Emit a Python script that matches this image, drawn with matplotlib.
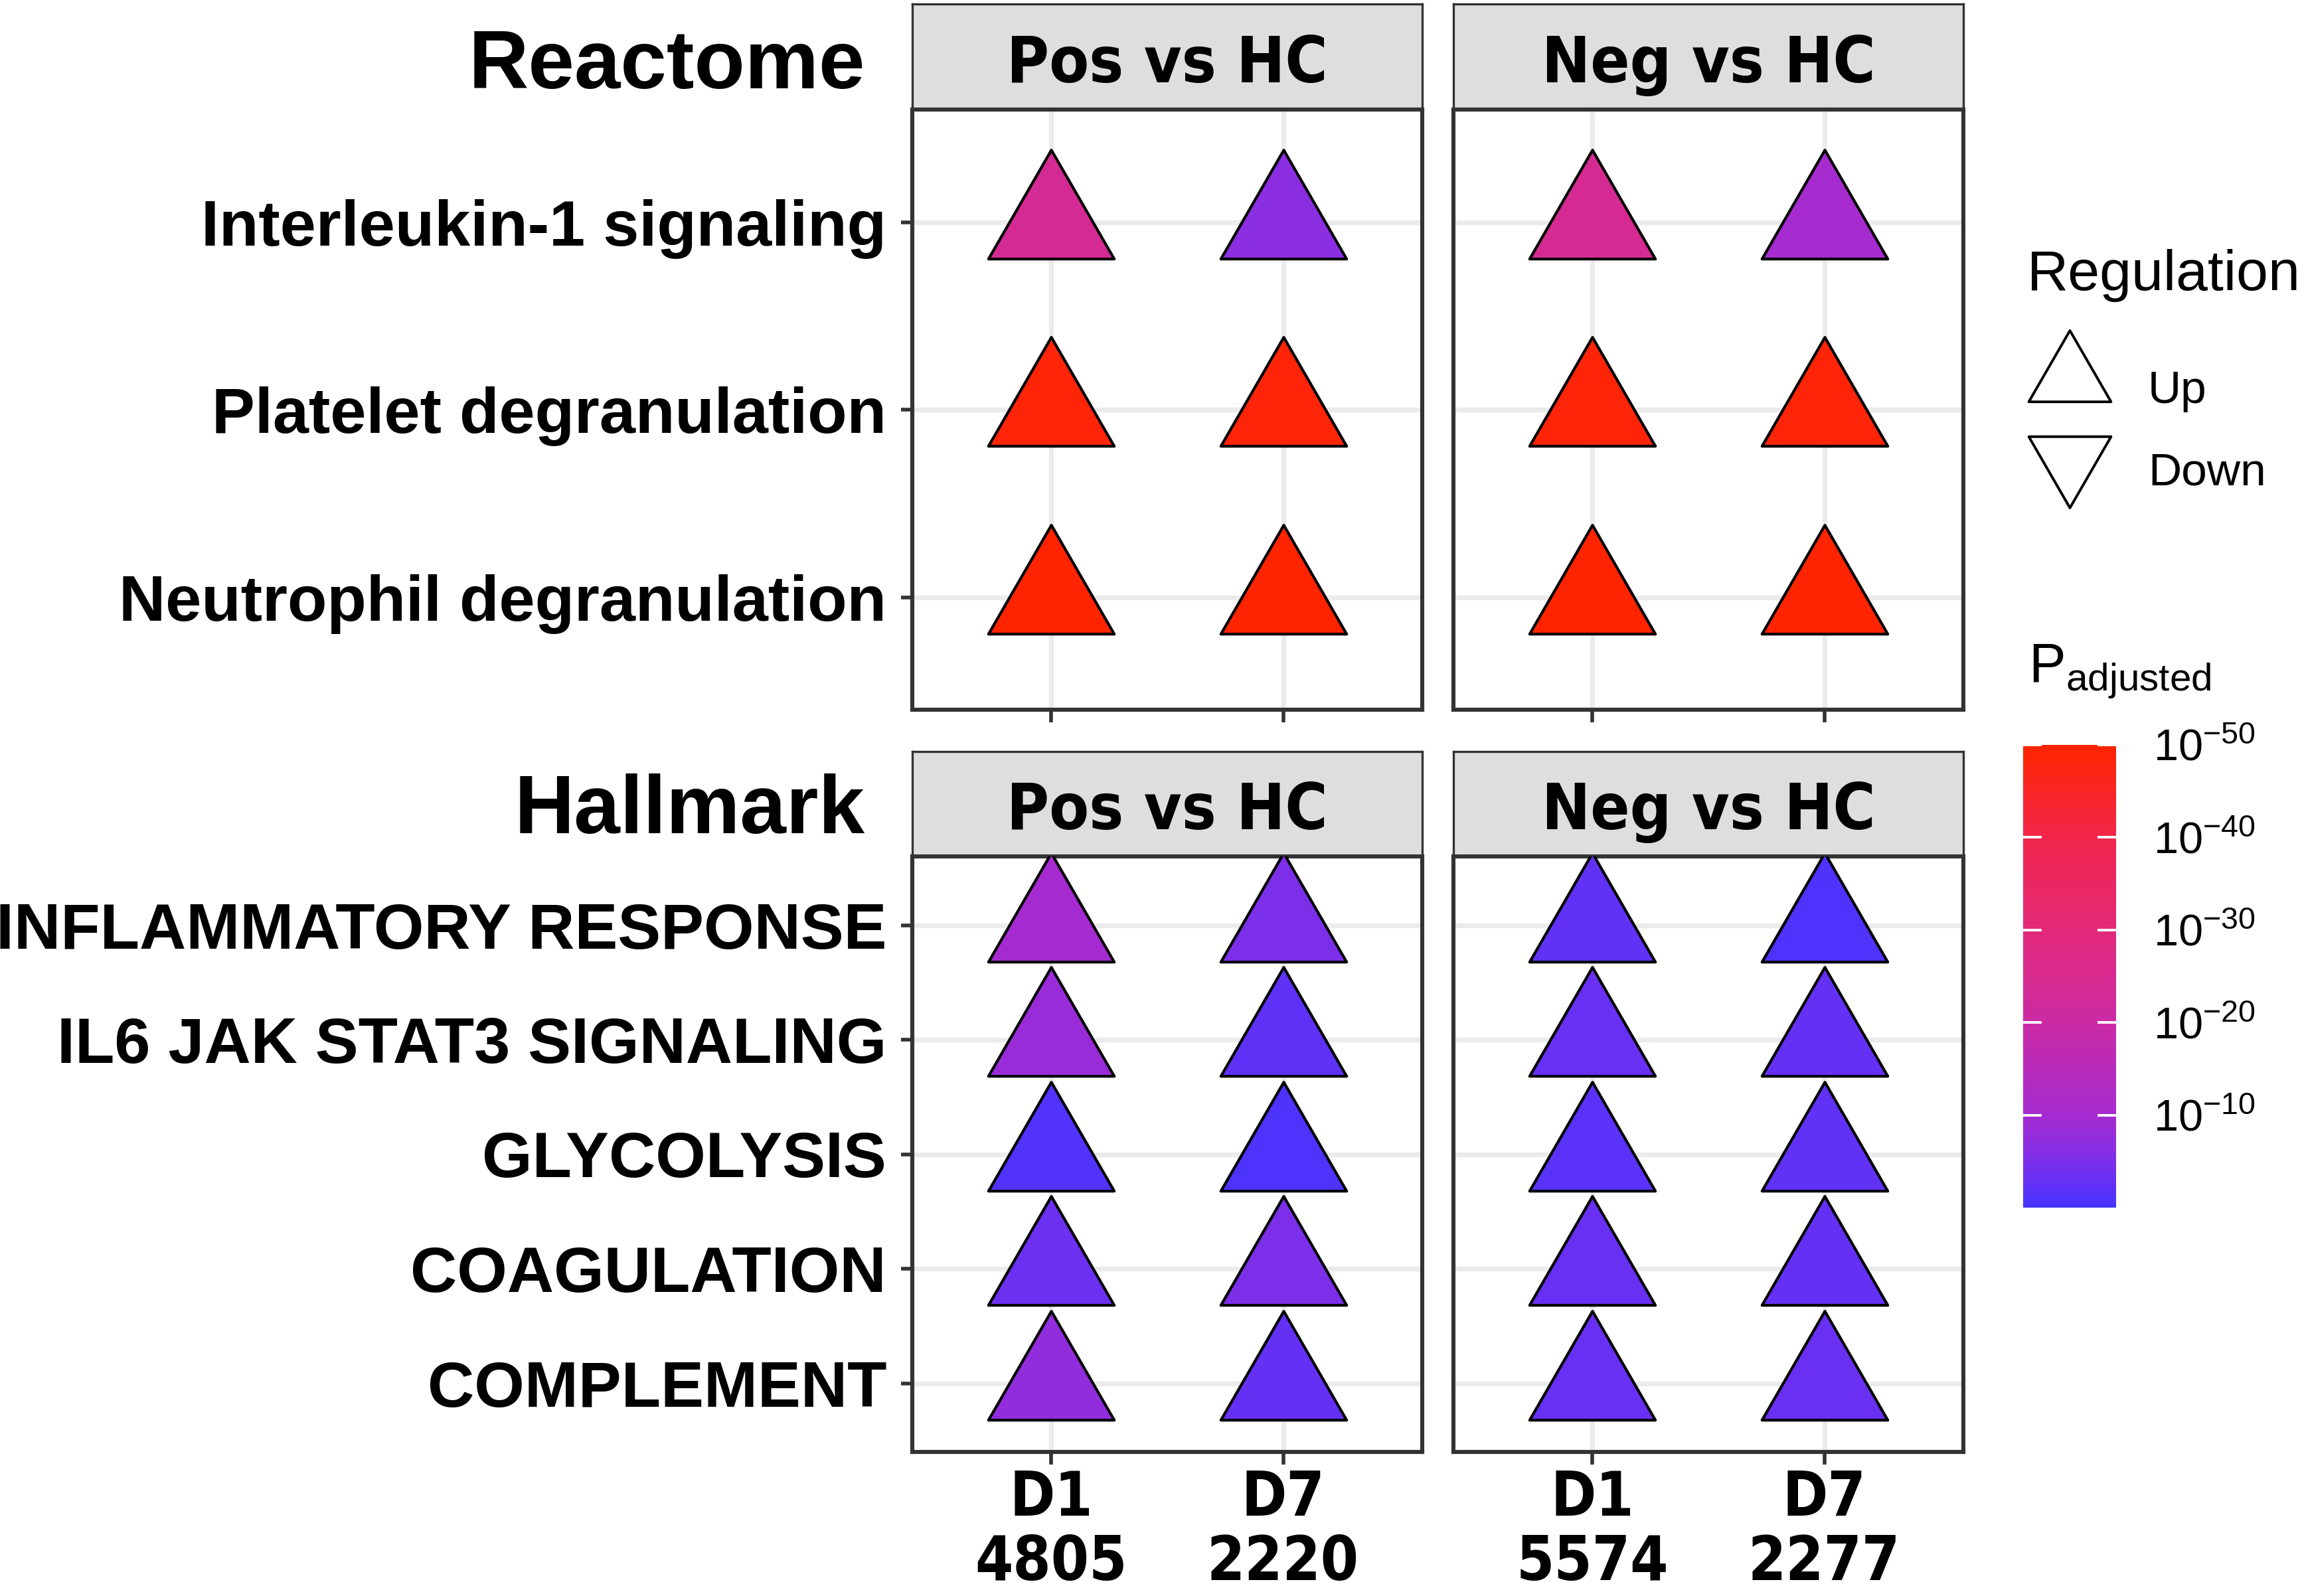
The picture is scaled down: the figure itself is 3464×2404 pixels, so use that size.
import numpy as np
import matplotlib
matplotlib.use("Agg")
import matplotlib.pyplot as plt
from matplotlib.path import Path
from matplotlib.lines import Line2D
from matplotlib.colors import LinearSegmentedColormap, Normalize
from matplotlib.cm import ScalarMappable
from matplotlib import font_manager

# ---- data ----
groups = ["Pos vs HC", "Neg vs HC"]
days = ["D1", "D7"]
pos_counts = [4805, 2220]
neg_counts = [5574, 2277]

reactome_terms = ["Interleukin-1 signaling", "Platelet degranulation", "Neutrophil degranulation"]
hallmark_terms = ["INFLAMMATORY RESPONSE", "IL6 JAK STAT3 SIGNALING", "GLYCOLYSIS",
                  "COAGULATION", "COMPLEMENT"]

# -log10(P adjusted), rows = terms, columns = D1, D7
reactome_pos = [[24.0, 6.5], [49.0, 49.0], [50.0, 50.0]]
reactome_neg = [[24.5, 10.5], [49.0, 49.0], [50.0, 50.0]]
hallmark_pos = [[10.0, 5.0], [8.5, 2.2], [1.0, 0.7], [3.5, 5.0], [7.5, 2.6]]
hallmark_neg = [[2.5, 0.8], [3.0, 2.7], [1.8, 2.4], [3.0, 2.7], [3.1, 3.3]]

# all terms are up-regulated
reactome_reg = ["Up"] * 3
hallmark_reg = ["Up"] * 5

cbar_ticks = [10, 20, 30, 40, 50]
cbar_labels = [r"$10^{-%d}$" % t for t in cbar_ticks]

# colour ramp
ramp_pos = [0, 3, 6, 10, 20, 30, 40, 50]
ramp_col = ["#4634FF", "#6930F2", "#872EE4", "#A52BD0", "#CB2AA5", "#E2297A", "#F2264B", "#FF2400"]
cmap = LinearSegmentedColormap.from_list("padj", list(zip(np.array(ramp_pos) / 50, ramp_col)))
norm = Normalize(0, 50)

# ---- fonts ----
fonts = font_manager.fontManager.ttflist
names = {f.name for f in fonts}
strip_kw = {"family": ["Liberation Sans"], "fontsize": 35}
xlab_kw = {"family": ["Liberation Sans"], "fontsize": 33}
xlab_ls = 1.1
if "Liberation Sans Narrow" in names:
    strip_kw = {"family": ["Liberation Sans Narrow", "Liberation Sans"], "fontsize": 42}
    xlab_kw = {"family": ["Liberation Sans Narrow", "Liberation Sans"], "fontsize": 40}
    xlab_ls = 1.05
else:
    cond = [f for f in fonts if f.name == "DejaVu Sans" and "condensed" in str(f.stretch)
            and f.weight in ("bold", 700)]
    if cond:
        strip_kw = {"family": ["DejaVu Sans"], "fontstretch": "condensed", "fontsize": 35}
        xlab_kw = {"family": ["DejaVu Sans"], "fontstretch": "condensed", "fontsize": 33}
        xlab_ls = 1.1

plt.rcParams["font.family"] = ["Liberation Sans", "DejaVu Sans"]
plt.rcParams["mathtext.fontset"] = "custom"
plt.rcParams["mathtext.rm"] = "Liberation Sans"
plt.rcParams["mathtext.it"] = "Liberation Sans:italic"
plt.rcParams["mathtext.bf"] = "Liberation Sans:bold"

W, H = 3464, 2404
fig = plt.figure(figsize=(W / 200, H / 200), dpi=200)


def box(x0, y0, x1, y1):
    return [x0 / W, 1 - y1 / H, (x1 - x0) / W, (y1 - y0) / H]


r3 = np.sqrt(3)
tri_up = Path([(0, 2 / r3), (-1, -1 / r3), (1, -1 / r3), (0, 2 / r3)], closed=True)
tri_down = Path([(0, -2 / r3), (-1, 1 / r3), (1, 1 / r3), (0, -2 / r3)], closed=True)
GREY20 = "#333333"


def strip(x0, x1, y0, y1, label):
    s = fig.add_axes(box(x0, y0, x1, y1))
    s.set_facecolor("#DEDEDE")
    s.set_xticks([])
    s.set_yticks([])
    for sp in s.spines.values():
        sp.set_color(GREY20)
        sp.set_linewidth(1.2)
    s.text(0.5, 0.26, label, ha="center", va="baseline", fontweight="bold",
           transform=s.transAxes, **strip_kw)


def panel(x0, x1, y0, y1, terms, vals, regs, show_y, xlabels):
    ax = fig.add_axes(box(x0, y0, x1, y1))
    n = len(terms)
    vals = np.array(vals)
    ypos = np.arange(n)[::-1]
    for j in range(len(days)):
        for i in range(n):
            ax.scatter(j, ypos[i], s=6200, marker=tri_up if regs[i] == "Up" else tri_down,
                       c=[vals[i, j]], cmap=cmap, norm=norm, edgecolors="black",
                       linewidths=1.5, zorder=3)
    ax.set_xlim(-0.6, len(days) - 0.4)
    ax.set_ylim(-0.6, n - 0.4)
    ax.set_axisbelow(True)
    ax.grid(True, color="#EBEBEB", lw=2.6)
    for sp in ax.spines.values():
        sp.set_color(GREY20)
        sp.set_linewidth(2.2)
    ax.set_xticks(range(len(days)))
    ax.set_yticks(ypos)
    ax.tick_params(axis="x", length=7, width=2, color=GREY20, pad=2)
    ax.tick_params(axis="y", length=6, width=2, color=GREY20, pad=8)
    if show_y:
        ax.set_yticklabels(terms, fontsize=35, fontweight="bold")
    else:
        ax.tick_params(axis="y", left=False, labelleft=False)
    if xlabels is None:
        ax.set_xticklabels([])
    else:
        ax.set_xticklabels(xlabels, fontweight="bold", linespacing=xlab_ls, **xlab_kw)
    return ax


cols = [(1374, 2142), (2189, 2957)]
top_rows = (6, 165, 1069)
bot_rows = (1132, 1290, 2187)

# Reactome row
strip(*cols[0], top_rows[0], top_rows[1], groups[0])
strip(*cols[1], top_rows[0], top_rows[1], groups[1])
panel(*cols[0], top_rows[1], top_rows[2], reactome_terms, reactome_pos, reactome_reg, True, None)
panel(*cols[1], top_rows[1], top_rows[2], reactome_terms, reactome_neg, reactome_reg, False, None)

# Hallmark row
strip(*cols[0], bot_rows[0], bot_rows[1], groups[0])
strip(*cols[1], bot_rows[0], bot_rows[1], groups[1])
panel(*cols[0], bot_rows[1], bot_rows[2], hallmark_terms, hallmark_pos, hallmark_reg, True,
      [f"{d}\n{c}" for d, c in zip(days, pos_counts)])
panel(*cols[1], bot_rows[1], bot_rows[2], hallmark_terms, hallmark_neg, hallmark_reg, False,
      [f"{d}\n{c}" for d, c in zip(days, neg_counts)])

fig.text(1303 / W, 1 - 133 / H, "Reactome", ha="right", va="baseline", fontsize=45, fontweight="bold")
fig.text(1303 / W, 1 - 1255 / H, "Hallmark", ha="right", va="baseline", fontsize=45, fontweight="bold")

# shape legend
fig.text(3053 / W, 1 - 437 / H, "Regulation", ha="left", va="baseline", fontsize=31)
handles = [Line2D([], [], marker=m, ls="none", ms=51.5, mfc="white", mec="black", mew=1.4)
           for m in (tri_up, tri_down)]
fig.legend(handles, ["Up", "Down"], loc="upper left", bbox_to_anchor=(3053 / W, 1 - 532 / H),
           frameon=False, fontsize=25, handlelength=1.84, handleheight=1.96,
           handletextpad=0.78, labelspacing=0.26, borderpad=0, borderaxespad=0)

# colour bar
fig.text(3055 / W, 1 - 1028 / H, r"$\mathrm{P}_{\mathrm{adjusted}}$", ha="left", va="baseline", fontsize=30)
cax = fig.add_axes(box(3047, 1122, 3187, 1819))
cb = fig.colorbar(ScalarMappable(norm=norm, cmap=cmap), cax=cax)
cb.outline.set_visible(False)
cb.set_ticks(cbar_ticks)
cb.set_ticklabels(cbar_labels)
cax.minorticks_off()
cax.tick_params(direction="in", left=True, right=True, color="white", length=10, width=1.4,
                labelsize=24, pad=20)

fig.savefig("out.png", dpi=200)
